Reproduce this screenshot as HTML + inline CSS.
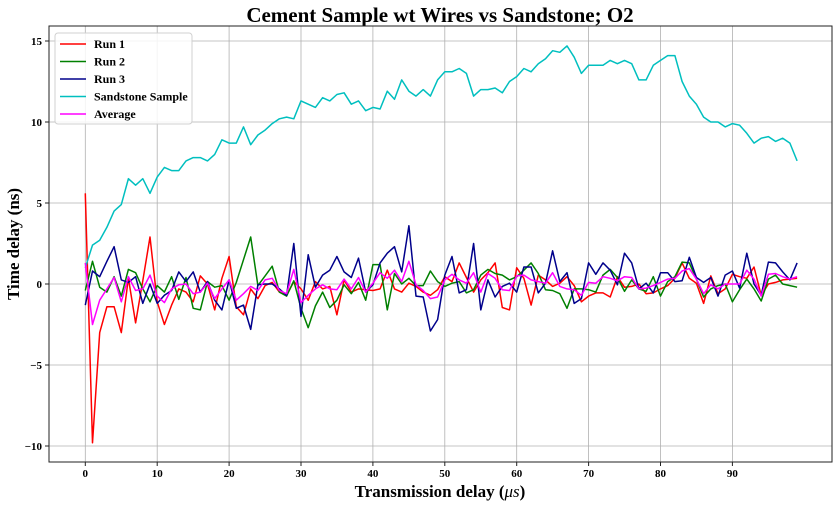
<!DOCTYPE html>
<html><head><meta charset="utf-8"><style>
body{margin:0;background:#fff;}
svg text{font-family:"Liberation Serif",serif;font-weight:bold;}
</style></head><body>
<svg id="chart" width="837" height="509" xmlns="http://www.w3.org/2000/svg">
<rect width="837" height="509" fill="#fff"/>
<text x="440" y="22" font-size="21" text-anchor="middle">Cement Sample wt Wires vs Sandstone; O2</text>
<g id="grid"></g>
<g id="series"></g>
<rect x="49" y="26" width="783" height="436" fill="none" stroke="#222" stroke-width="1"/>
<g id="ticks"></g>
<text x="440" y="497" font-size="17" text-anchor="middle">Transmission delay (<tspan font-style="italic" font-weight="normal">μs</tspan>)</text>
<text transform="translate(19,244) rotate(-90)" font-size="17" text-anchor="middle">Time delay (ns)</text>
<g id="legend"></g>
</svg>
<script>
const xTicks=[0,10,20,30,40,50,60,70,80,90];
const yTicks=[-10,-5,0,5,10,15];
const yTickLabels=["\u221210","\u22125","0","5","10","15"];
const seriesNames=["Run 1","Run 2","Run 3","Sandstone Sample","Average"];
const seriesColors=["#ff0000","#008000","#00008b","#00bfbf","#ff00ff"];
const run1=[5.6,-9.8,-3.0,-1.4,-1.4,-3.0,0.35,-2.4,0.2,2.9,-1.1,-2.5,-1.3,-0.3,-0.5,-1.1,0.5,0.0,-1.6,0.35,1.7,-1.4,-1.9,-0.3,-0.9,-0.1,
0.1,-0.5,-0.7,0.15,-0.3,-1.0,0.15,-0.3,-0.15,-1.9,0.25,-0.5,-0.3,-0.35,-0.4,-0.3,0.85,-0.3,-0.5,0.05,-0.15,-0.5,-0.7,-0.35,0.45,0.15,
1.3,0.4,-0.5,0.25,0.7,1.3,-1.45,-1.6,1.0,0.35,-1.3,0.55,0.25,-0.15,0.05,0.45,-0.1,-1.1,-0.75,-0.55,-0.55,-0.8,0.45,-0.2,-0.15,0.0,
-0.6,-0.55,-0.3,-0.1,0.35,1.3,0.35,0.05,-1.2,0.5,-0.6,-0.3,0.6,0.45,0.35,1.05,-0.7,0.0,0.1,0.25,0.3,0.35];
const run2=[-0.4,1.4,-0.2,-0.5,0.45,-0.75,0.9,0.7,-0.3,-1.1,-0.1,-0.5,0.45,-0.95,0.4,-1.5,-1.6,0.15,-0.2,-0.1,-1.0,0.1,1.5,2.9,-0.1,0.5,
1.1,-0.5,-0.75,0.2,-1.5,-2.7,-1.35,-0.5,-1.45,-1.0,-0.05,-0.6,0.1,-1.0,1.2,1.2,-1.6,0.65,0.0,0.35,-0.1,-0.1,0.8,0.15,-0.15,0.05,
0.15,-0.55,-0.35,0.55,0.9,0.65,0.55,0.25,0.45,0.85,1.3,0.65,-0.35,-0.4,-0.6,-1.5,-0.3,-0.3,-0.35,-0.5,0.55,0.9,0.4,-0.45,0.25,
-0.3,-0.45,0.45,-0.75,0.15,0.45,1.35,1.3,0.3,-0.8,-0.3,-0.1,0.0,-1.1,-0.35,0.3,-0.3,-1.05,0.3,0.55,0.0,-0.1,-0.2];
const run3=[-1.3,0.8,0.45,1.4,2.3,0.25,0.1,0.45,-1.2,0,-1.2,-0.7,-0.4,0.75,0.15,0.75,-0.5,0.15,-1.0,-1.6,0.25,-1.5,-1.3,-2.8,-0.05,0.0,
0,-0.3,-0.7,2.5,-2.0,1.8,-0.2,0.55,0.85,1.7,0.75,0.4,1.6,-0.5,-0.05,1.3,1.9,2.3,0.75,3.6,-0.75,-0.8,-2.9,-2.2,0.55,1.7,
-0.55,-0.35,2.5,-1.6,0.25,-0.8,-0.15,0.05,-0.5,1.05,1.05,-0.55,0.05,2.05,0.15,0.7,-1.2,-0.9,1.3,0.6,1.3,0.85,-0.05,1.9,1.3,
-0.3,0.05,-0.55,0.7,0.7,0.15,0.2,1.65,0.4,0.1,0.4,-0.75,0.55,0.8,-0.25,1.9,0,-0.7,1.35,1.3,0.75,0.25,1.3];
const sandstone=[1.0,2.4,2.7,3.5,4.5,4.9,6.5,6.1,6.5,5.6,6.6,7.2,7.0,7.0,7.6,7.8,7.8,7.6,8.0,8.9,8.7,8.7,9.7,8.6,9.2,9.5,9.9,10.2,10.3,10.2,
11.3,11.1,10.9,11.5,11.3,11.7,11.8,11.1,11.3,10.7,10.9,10.8,11.9,11.4,12.6,11.9,11.6,12.0,11.6,12.6,
13.1,13.1,13.3,13.0,11.6,12.0,12.0,12.1,11.8,12.5,12.8,13.3,13.1,13.6,13.9,14.4,14.3,14.7,14.0,13.0,
13.5,13.5,13.5,13.8,13.6,13.8,13.6,12.6,12.6,13.5,13.8,14.1,14.1,12.5,11.6,11.1,10.3,10.0,10.0,9.7,
9.9,9.8,9.3,8.7,9.0,9.1,8.8,9.0,8.7,7.6];
const average=[1.3,-2.5,-1.0,-0.3,0.4,-1.1,0.45,-0.4,-0.3,0.55,-0.75,-1.15,-0.3,-0.05,0,-0.6,-0.5,0.05,-0.9,-0.3,0.25,-1.0,-0.6,-0.15,-0.4,0.25,
0.35,-0.4,-0.6,0.9,-1.15,-0.7,-0.3,-0.05,-0.3,-0.35,0.3,-0.3,0.4,-0.5,0.05,0.7,0.35,0.85,0.15,1.4,-0.05,-0.4,-0.9,-0.8,0.25,0.6,
0.25,0.05,0.7,-0.5,0.65,0.35,-0.35,-0.4,0.5,0.55,0.25,0.15,0.05,0.7,-0.15,-0.3,-0.35,-0.7,0.1,0.05,0.45,0.35,0.2,0.45,0.4,
-0.3,-0.25,-0.1,0.1,0.3,0.35,0.8,0.95,0.3,-0.6,-0.05,-0.3,0.0,0.0,0.0,0.85,0.3,-0.75,0.6,0.65,0.45,0.3,0.45];

const NS="http://www.w3.org/2000/svg";
function xs(v){return 85.3+v*7.19;}
function ys(v){return 284-v*16.2;}
function mk(tag,attrs,parent){const e=document.createElementNS(NS,tag);for(const k in attrs)e.setAttribute(k,attrs[k]);parent.appendChild(e);return e;}
const grid=document.getElementById('grid'),ticks=document.getElementById('ticks'),ser=document.getElementById('series'),leg=document.getElementById('legend');
xTicks.forEach(t=>{
  const l=mk('line',{x1:xs(t),x2:xs(t),y1:26,y2:462,stroke:'#b0b0b0','stroke-width':0.8},grid);
  
  
  mk('line',{x1:xs(t),x2:xs(t),y1:462,y2:466,stroke:'#222'},ticks);
  const tx=mk('text',{x:xs(t),y:477,'font-size':11,'text-anchor':'middle'},ticks);
  tx.textContent=t;
  
  
});
yTicks.forEach((t,i)=>{
  const l=mk('line',{x1:49,x2:832,y1:ys(t),y2:ys(t),stroke:'#b0b0b0','stroke-width':0.8},grid);
  
  
  mk('line',{x1:45,x2:49,y1:ys(t),y2:ys(t),stroke:'#222'},ticks);
  const tx=mk('text',{x:42,y:ys(t)+4,'font-size':11,'text-anchor':'end'},ticks);
  tx.textContent=yTickLabels[i];
  
  
});
const allSeries=[run1,run2,run3,sandstone,average];
const seriesKeys=['run-1-line','run-2-line','run-3-line','sandstone-line','average-line'];
allSeries.forEach((d,si)=>{
  const pts=d.map((v,i)=>xs(i).toFixed(1)+','+ys(v).toFixed(1)).join(' ');
  const p=mk('polyline',{points:pts,fill:'none',stroke:seriesColors[si],'stroke-width':1.5,'stroke-linejoin':'round'},ser);
  
  
});
const lb=mk('rect',{x:55,y:33,width:137,height:91,rx:3,fill:'#fff','fill-opacity':0.85,stroke:'#d0d0d0'},leg);


seriesNames.forEach((n,i)=>{
  const y=44+i*17.5;
  const g=mk('g',{},leg);
  
  
  mk('line',{x1:60,x2:86,y1:y,y2:y,stroke:seriesColors[i],'stroke-width':1.5},g);
  const t=mk('text',{x:94,y:y+4,'font-size':12},g);
  t.textContent=n;
});
</script>
</body></html>
